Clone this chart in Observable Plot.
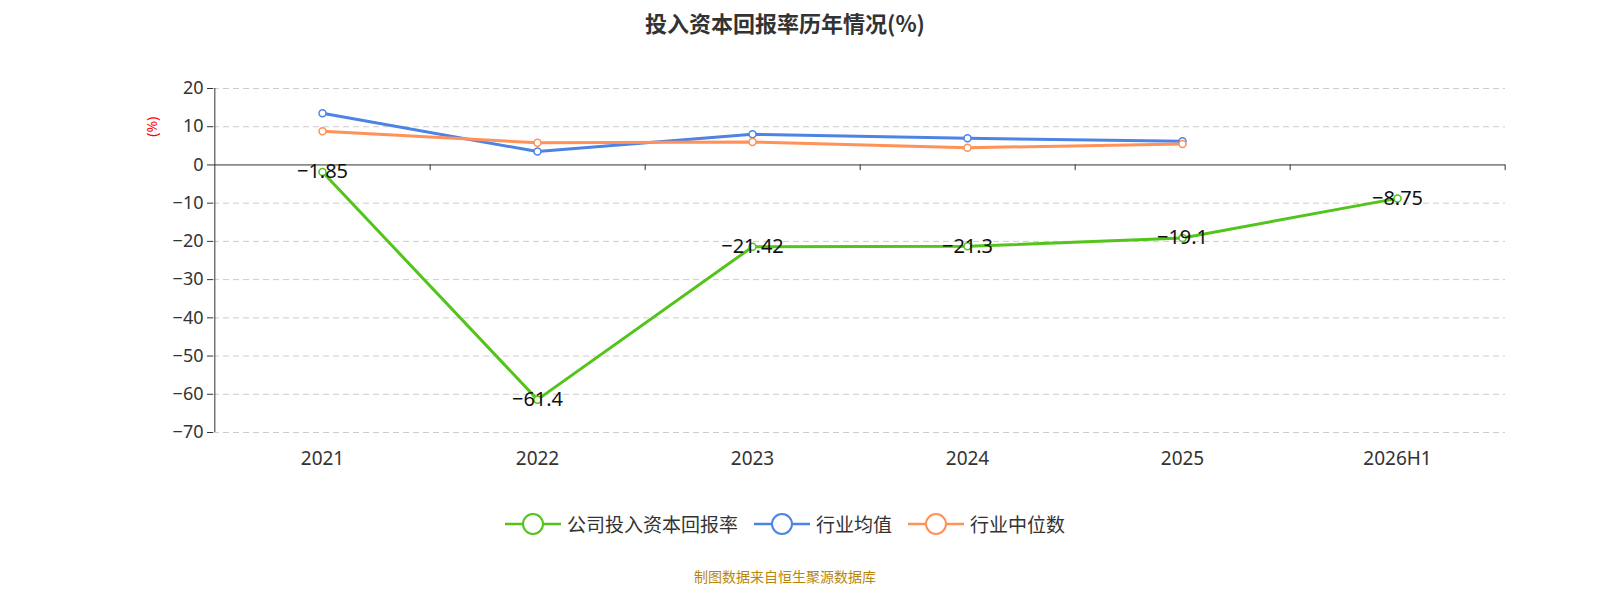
<!DOCTYPE html>
<html><head><meta charset="utf-8">
<script src="https://cdn.jsdelivr.net/npm/d3@7"></script>
<script src="https://cdn.jsdelivr.net/npm/@observablehq/plot@0.6"></script>
<style>
html,body{margin:0;padding:0;overflow:hidden}
body{width:1600px;height:600px;background:#fff;font-family:"Noto Sans CJK SC","Noto Sans",sans-serif;position:relative}
#title{position:absolute;top:6px;left:0;width:1570px;text-align:center;font-size:22px;font-weight:bold;color:#333}
#chart{position:absolute;top:50px;left:0}
#legend{position:absolute;top:510px;left:0;width:1570px;text-align:center;font-size:19px;color:#333}
.li{display:inline-flex;align-items:center;margin:0 8px}
#cap{position:absolute;top:566px;left:0;width:1570px;text-align:center;font-size:14px;color:#b8860b}
</style></head><body>
<div id="title">投入资本回报率历年情况(%)</div>
<div id="chart"></div>
<div id="legend"></div>
<div id="cap">制图数据来自恒生聚源数据库</div>
<script>
const years = ["2021","2022","2023","2024","2025","2026H1"];
const company = [-1.85,-61.4,-21.42,-21.3,-19.1,-8.75];
const indYears = ["2021","2022","2023","2024","2025"];
const indMean = [13.5,3.5,8.0,7.0,6.2];
const indMedian = [8.8,5.8,6.0,4.5,5.5];
const yTicks = [20,10,0,-10,-20,-30,-40,-50,-60,-70];
const colors = {c:"#52c41a", m:"#4e83e6", d:"#ff9159"};
const seriesNames = ["公司投入资本回报率","行业均值","行业中位数"];

const cData = years.map((y,i)=>({x:y,v:company[i]}));
const mData = indYears.map((y,i)=>({x:y,v:indMean[i]}));
const dData = indYears.map((y,i)=>({x:y,v:indMedian[i]}));
const step = (1600-213-95)/6;

const plot = Plot.plot({
  width:1600, height:470, marginLeft:213, marginRight:95, marginTop:38, marginBottom:88,
  style:{fontSize:"18px", fontFamily:"Noto Sans, sans-serif", color:"#333", display:"block"},
  x:{type:"point", domain:years, padding:0.5, label:null, axis:null},
  y:{domain:[-70,20], label:null, axis:null},
  marks:[
    Plot.gridY(yTicks.filter(t=>t!==0),{stroke:"#ccc", strokeOpacity:1, strokeDasharray:"6,4"}),
    Plot.axisY(yTicks,{tickSize:6, label:null, fontSize:18, tickPadding:4}),
    Plot.ruleX([0],{x:()=>years[0], dx:-step/2, y1:-70, y2:20, stroke:"#333"}),
    Plot.ruleY([0],{stroke:"#333"}),
    Plot.ruleX(years,{x:d=>d, dx:step/2, y1:0, y2:-1.5, stroke:"#333"}),
    Plot.text(years,{x:d=>d, y:-70, dy:26, fontSize:19, text:d=>d, fill:"#333"}),
    Plot.line(mData,{x:"x",y:"v",stroke:colors.m,strokeWidth:3}),
    Plot.line(dData,{x:"x",y:"v",stroke:colors.d,strokeWidth:3}),
    Plot.line(cData,{x:"x",y:"v",stroke:colors.c,strokeWidth:3}),
    Plot.dot(mData,{x:"x",y:"v",r:3.5,fill:"#fff",stroke:colors.m,strokeWidth:1.5}),
    Plot.dot(dData,{x:"x",y:"v",r:3.5,fill:"#fff",stroke:colors.d,strokeWidth:1.5}),
    Plot.dot(cData,{x:"x",y:"v",r:3.5,fill:"#fff",stroke:colors.c,strokeWidth:1.5}),
    Plot.text(cData,{x:"x",y:"v",text:d=>String(d.v).replace("-","−"),fontSize:20,fill:"#111"}),
    Plot.text(["(%)"],{x:()=>years[0], y:10, dx:-step/2-62, rotate:-90, text:d=>d, fill:"red", fontSize:14})
  ]
});
document.getElementById("chart").appendChild(plot);

const lg = document.getElementById("legend");
[colors.c,colors.m,colors.d].forEach((c,i)=>{
  const s=document.createElement("span");s.className="li";
  s.innerHTML=`<svg width="56" height="24"><line x1="0" x2="56" y1="12" y2="12" stroke="${c}" stroke-width="2.5"/><circle cx="28" cy="12" r="10" fill="#fff" stroke="${c}" stroke-width="2"/></svg><span style="margin-left:6px">${seriesNames[i]}</span>`;
  lg.appendChild(s);
});
</script></body></html>
